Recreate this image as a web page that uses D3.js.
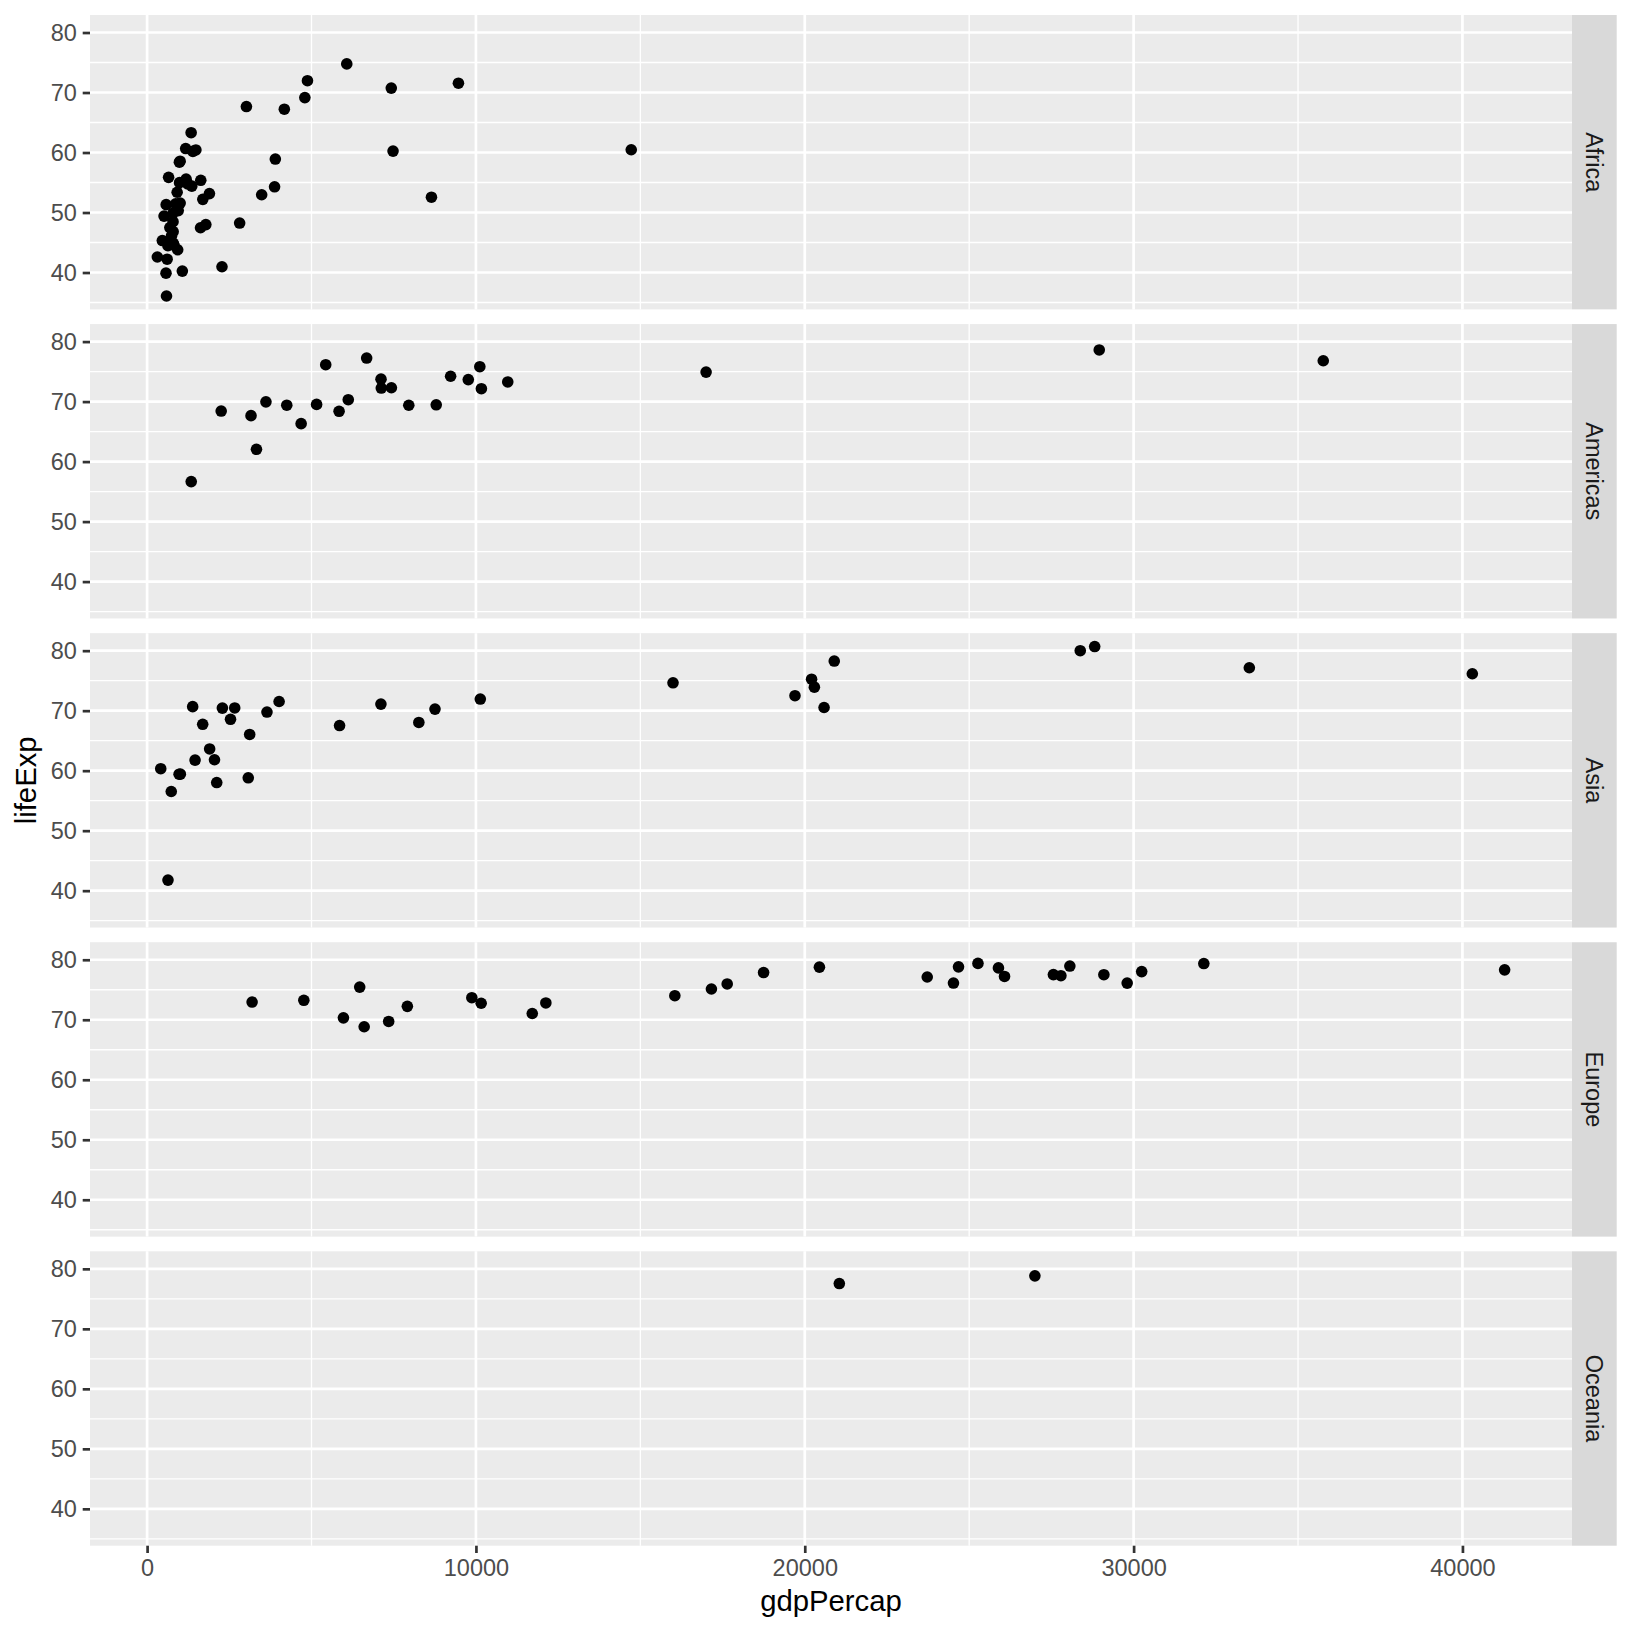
<!DOCTYPE html>
<html><head><meta charset="utf-8">
<script src="https://cdn.jsdelivr.net/npm/d3@7"></script>
<style>body{margin:0;background:#fff}svg{display:block}</style>
</head><body>
<script>
const continents = ["Africa","Americas","Asia","Europe","Oceania"];

const africaGdp = [4797.295,2277.141,1232.975,8647.142,946.295,463.1151,1694.337,740.5063,1004.961,1173.619,312.1884,3484.164,1786.265,1895.017,4173.182,2814.481,913.4708,515.8894,14722.84,653.7302,1005.246,869.4498,796.6645,1360.485,1186.148,609.174,9467.446,986.2959,692.2758,790.258,1483.136,7425.705,3020.051,633.6179,3899.524,580.3052,1624.942,6071.941,589.9445,1339.076,1392.368,574.6482,930.5964,7479.188,1632.211,3876.768,789.1862,982.2869,4876.799,816.5591,1071.354,792.45];
const africaLife = [69.152,40.963,54.777,52.556,50.324,45.326,52.199,46.066,51.573,60.66,42.587,52.962,47.991,53.157,67.217,48.245,53.378,49.402,60.461,55.861,58.556,51.455,44.873,54.407,55.558,42.221,71.555,54.978,47.495,49.903,60.43,70.736,67.66,44.477,58.909,51.313,47.464,74.772,36.087,63.306,60.187,39.897,43.795,60.236,55.373,54.289,48.466,58.39,71.973,44.578,40.238,46.809];

const americasGdp = [10967.28,3326.143,7957.981,28954.93,10118.05,6117.362,6677.045,5431.99,3614.101,7429.456,5154.825,4684.314,1341.727,3160.455,7121.925,9767.298,2253.023,7113.692,4247.4,5838.348,16999.43,8792.573,35767.43,9230.241,10165.5];
const americasLife = [73.275,62.05,69.388,78.61,75.816,70.313,77.26,76.151,69.957,72.312,69.535,66.322,56.671,67.659,72.262,73.67,68.426,73.738,69.4,68.386,74.917,69.465,76.81,74.223,72.146];

const asiaGdp = [635.3414,20292.02,972.77,734.2852,2289.234,28377.63,1458.817,3119.336,8263.59,3076.24,20896.61,28816.58,3645.38,1690.757,15993.53,40300.62,8754.964,10132.91,1902.252,415,1010.892,19702.06,2049.351,2536.535,20586.69,33519.48,2664.477,4014.239,20206.82,5852.625,1385.897,7110.668,2117.484];
const asiaLife = [41.763,73.925,59.412,56.534,70.426,80.0,61.765,66.041,68.042,58.811,78.269,80.69,69.772,67.727,74.647,76.156,70.265,71.938,63.625,60.328,59.426,72.499,61.818,68.564,70.533,77.158,70.457,71.527,75.25,67.521,70.672,71.096,58.02];

const europeGdp = [3193.055,29095.92,27561.2,4766.356,5970.389,9875.605,16048.51,29804.35,23723.95,25889.78,27788.88,18747.7,11712.78,28061.1,24521.95,24675.02,6465.613,30246.13,41283.16,10159.58,17641.03,7346.548,7914.32,12126.23,17161.11,20445.3,25266.59,32135.32,6601.43,26074.53];
const europeLife = [72.95,77.51,77.53,73.244,70.32,73.68,74.01,76.11,77.13,78.64,77.34,77.869,71.04,78.95,76.122,78.82,75.445,78.03,78.32,72.75,75.97,69.72,72.232,72.8,75.13,78.77,79.39,79.37,68.835,77.218];

const oceaniaGdp = [26997.94,21050.41];
const oceaniaLife = [78.83,77.55];

const xTicks = [0,10000,20000,30000,40000];
const xMinor = [5000,15000,25000,35000];
const yTicks = [40,50,60,70,80];
const yMinor = [35,45,55,65,75];

const series = [
  {name:continents[0], gdp:africaGdp, life:africaLife},
  {name:continents[1], gdp:americasGdp, life:americasLife},
  {name:continents[2], gdp:asiaGdp, life:asiaLife},
  {name:continents[3], gdp:europeGdp, life:europeLife},
  {name:continents[4], gdp:oceaniaGdp, life:oceaniaLife}
];

const W = 1632, H = 1632;
const pLeft = 90, pRight = 1572, pTop = 15, pBottom = 1545.7, pGap = 14.7;
const stripW = 44.7;
const ph = (pBottom - pTop - pGap * 4) / 5;

const allG = series.flatMap(s => s.gdp), allL = series.flatMap(s => s.life);
const [gmin, gmax] = d3.extent(allG), [lmin, lmax] = d3.extent(allL);
const gx = (gmax - gmin) * 0.05, lx = (lmax - lmin) * 0.05;
const x = d3.scaleLinear().domain([gmin - gx, gmax + gx]).range([pLeft, pRight]);

const svg = d3.select("body").append("svg").attr("width", W).attr("height", H);
const font = "Liberation Sans, Arial, Helvetica, sans-serif";

series.forEach((s, i) => {
  const y0 = pTop + i * (ph + pGap);
  const y = d3.scaleLinear().domain([lmin - lx, lmax + lx]).range([y0 + ph, y0]);
  const g = svg.append("g");
  g.append("rect").attr("x", pLeft).attr("y", y0).attr("width", pRight - pLeft).attr("height", ph).attr("fill", "#EBEBEB");
  g.selectAll(".ym").data(yMinor.filter(v => y(v) >= y0 && y(v) <= y0 + ph)).join("line").attr("class","ym")
    .attr("x1", pLeft).attr("x2", pRight).attr("y1", d => y(d)).attr("y2", d => y(d))
    .attr("stroke", "#fff").attr("stroke-width", 1.35);
  g.selectAll(".xm").data(xMinor).join("line").attr("class","xm")
    .attr("x1", d => x(d)).attr("x2", d => x(d)).attr("y1", y0).attr("y2", y0 + ph)
    .attr("stroke", "#fff").attr("stroke-width", 1.35);
  g.selectAll(".yM").data(yTicks).join("line").attr("class","yM")
    .attr("x1", pLeft).attr("x2", pRight).attr("y1", d => y(d)).attr("y2", d => y(d))
    .attr("stroke", "#fff").attr("stroke-width", 2.7);
  g.selectAll(".xM").data(xTicks).join("line").attr("class","xM")
    .attr("x1", d => x(d)).attr("x2", d => x(d)).attr("y1", y0).attr("y2", y0 + ph)
    .attr("stroke", "#fff").attr("stroke-width", 2.7);
  g.selectAll("circle").data(s.gdp.map((v, k) => [v, s.life[k]])).join("circle")
    .attr("cx", d => x(d[0])).attr("cy", d => y(d[1])).attr("r", 5.8).attr("fill", "#000");
  const ya = svg.append("g").attr("transform", `translate(${pLeft},0)`)
    .call(d3.axisLeft(y).tickValues(yTicks).tickSize(7.3).tickPadding(5.9).tickFormat(d3.format("d")));
  ya.select(".domain").remove();
  ya.selectAll(".tick line").attr("stroke", "#333333").attr("stroke-width", 2.7);
  ya.selectAll(".tick text").attr("fill", "#4D4D4D").style("font-size", "23.5px").style("font-family", font);
  svg.append("rect").attr("x", pRight).attr("y", y0).attr("width", stripW).attr("height", ph).attr("fill", "#D9D9D9");
  svg.append("text").attr("transform", `translate(${pRight + stripW / 2},${y0 + ph / 2}) rotate(90)`)
    .attr("text-anchor", "middle").attr("dominant-baseline", "central")
    .attr("fill", "#1A1A1A").style("font-size", "23.5px").style("font-family", font).text(s.name);
});

const xa = svg.append("g").attr("transform", `translate(0,${pBottom})`)
  .call(d3.axisBottom(x).tickValues(xTicks).tickSize(7.3).tickPadding(5.9).tickFormat(d3.format("d")));
xa.select(".domain").remove();
xa.selectAll(".tick line").attr("stroke", "#333333").attr("stroke-width", 2.7);
xa.selectAll(".tick text").attr("fill", "#4D4D4D").style("font-size", "23.5px").style("font-family", font);

svg.append("text").attr("x", (pLeft + pRight) / 2).attr("y", 1611).attr("text-anchor", "middle")
  .style("font-size", "29.3px").style("font-family", font).attr("fill", "#000").text("gdpPercap");
svg.append("text").attr("transform", `translate(36,${(pTop + pBottom) / 2}) rotate(-90)`).attr("text-anchor", "middle")
  .style("font-size", "29.3px").style("font-family", font).attr("fill", "#000").text("lifeExp");
</script>
</body></html>
